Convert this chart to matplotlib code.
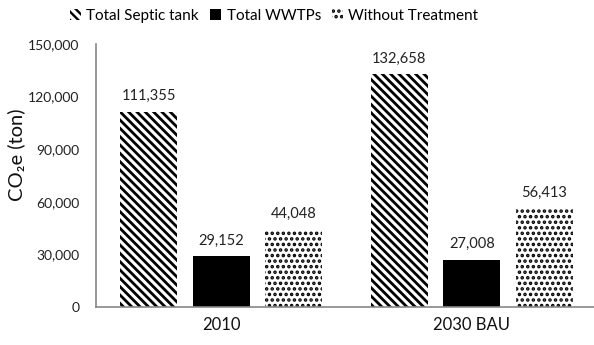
import matplotlib
matplotlib.use("Agg")
import matplotlib.pyplot as plt
import numpy as np

plt.rcParams['font.family'] = ['Lato', 'DejaVu Sans']
plt.rcParams['hatch.color'] = 'black'

categories = ["2010", "2030 BAU"]
series_names = ["Total Septic tank", "Total WWTPs", "Without Treatment"]
septic = [111355, 132658]
wwtps = [29152, 27008]
without = [44048, 56413]
y_ticks = [0, 30000, 60000, 90000, 120000, 150000]

fig = plt.figure(figsize=(5.94, 3.45), dpi=100)
ax = fig.add_axes([96 / 594, 1 - 307 / 345, (597 - 96) / 594, (307 - 44) / 345])

x = np.arange(len(categories))
width = 0.227
offset = 0.289
styles = [
    (2.0, dict(facecolor='white', hatch='\\\\\\\\', edgecolor='black', linewidth=0)),
    (1.0, dict(facecolor='black', edgecolor='black', linewidth=0)),
    (1.7, dict(facecolor='white', hatch='...', edgecolor='black', linewidth=0)),
]
handles = []
for i, (vals, name, (hlw, st)) in enumerate(zip([septic, wwtps, without], series_names, styles)):
    plt.rcParams['hatch.linewidth'] = hlw
    bars = ax.bar(x + (i - 1) * offset, vals, width, label=name, **st)
    handles.append(bars)
    for xi, v in zip(x + (i - 1) * offset, vals):
        ax.text(xi, v + 4800, f"{v:,}", ha='center', va='bottom', fontsize=10.5, color='#222222')

ax.set_xlim(-0.5, 1.5)
ax.set_ylim(0, 150000)
ax.set_yticks(y_ticks)
ax.set_yticklabels([f"{t:,}" for t in y_ticks], fontsize=10, color='#222222')
ax.set_xticks(x)
ax.set_xticklabels(categories, fontsize=12, color='#111111')
ax.tick_params(axis='both', length=0)
ax.tick_params(axis='y', pad=12)
ax.tick_params(axis='x', pad=7)
for s in ['top', 'right']:
    ax.spines[s].set_visible(False)
for s in ['left', 'bottom']:
    ax.spines[s].set_color('#888888')
    ax.spines[s].set_linewidth(1.2)
fig.text(16 / 594, 1 - 155 / 345, "CO₂e (ton)", rotation=90, ha='center', va='center',
         fontsize=14.5, color='#111111')

fig.legend(handles=handles, labels=series_names, loc='center', bbox_to_anchor=(274 / 594, 1 - 16 / 345),
           ncol=3, frameon=False, fontsize=11, handlelength=0.75, handleheight=0.75,
           handletextpad=0.35, columnspacing=0.7)

fig.savefig("out.png", dpi=100, facecolor='white')
